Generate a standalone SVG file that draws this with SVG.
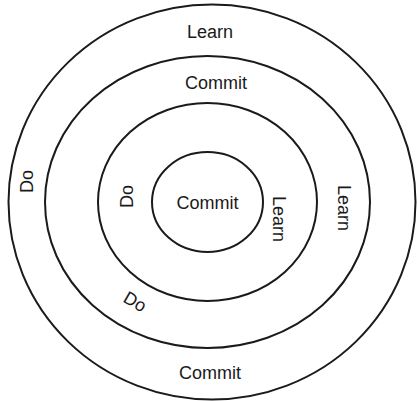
<svg xmlns="http://www.w3.org/2000/svg" width="417" height="401" viewBox="0 0 417 401">
<style>
.ring{fill:none;stroke:#1a1a1a;stroke-width:2}
.lbl{font-family:"Liberation Sans",Arial,sans-serif;font-size:18px;fill:#1a1a1a;text-anchor:middle}
</style>
<rect width="417" height="401" fill="#fff"/>
<g id="ring-outer"><ellipse class="ring" cx="212" cy="202" rx="203.5" ry="197.5"/></g>
<g id="ring-second"><ellipse class="ring" cx="207.5" cy="202" rx="162.5" ry="146"/></g>
<g id="ring-third"><ellipse class="ring" cx="207.5" cy="202" rx="109.5" ry="99"/></g>
<g id="ring-inner"><ellipse class="ring" cx="207.5" cy="202" rx="55.5" ry="50"/></g>
<g id="connectors"></g>
<g id="labels">
<text class="lbl" x="210" y="38">Learn</text>
<text class="lbl" x="216" y="89">Commit</text>
<text class="lbl" x="207.5" y="209">Commit</text>
<text class="lbl" x="210" y="379">Commit</text>
<text class="lbl" transform="translate(33,181.5) rotate(-90)">Do</text>
<text class="lbl" transform="translate(133,196.5) rotate(-90)">Do</text>
<text class="lbl" transform="translate(273,219) rotate(90)">Learn</text>
<text class="lbl" transform="translate(338,208) rotate(90)">Learn</text>
<text class="lbl" transform="translate(132,307) rotate(30)">Do</text>
</g>
</svg>
